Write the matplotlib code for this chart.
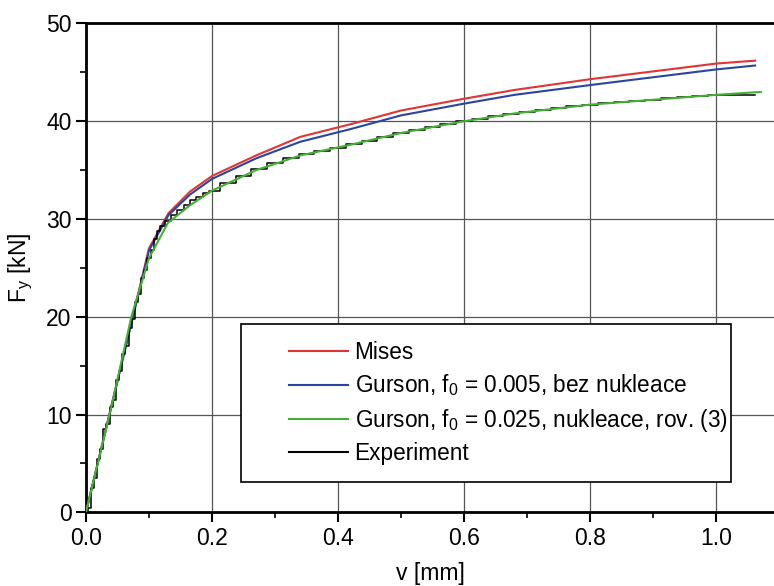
import matplotlib
matplotlib.use('Agg')
import matplotlib.pyplot as plt
from matplotlib.patches import Rectangle
from matplotlib.ticker import MultipleLocator

plt.rcParams['font.family'] = ['Liberation Sans', 'DejaVu Sans']

# ---- data ----
x_mises = [0, 0.1, 0.131, 0.165, 0.2, 0.27, 0.34, 0.42, 0.5, 0.6, 0.68, 0.8, 0.9, 1.0, 1.062]
f_mises = [0, 27.0, 30.6, 32.8, 34.4, 36.5, 38.4, 39.7, 41.1, 42.3, 43.2, 44.3, 45.1, 45.9, 46.2]

x_gurson1 = [0, 0.1, 0.131, 0.165, 0.2, 0.27, 0.34, 0.42, 0.5, 0.6, 0.68, 0.8, 0.9, 1.0, 1.062]
f_gurson1 = [0, 26.8, 30.4, 32.5, 34.1, 36.2, 37.9, 39.2, 40.6, 41.8, 42.7, 43.7, 44.5, 45.3, 45.7]

x_gurson2 = [0, 0.04, 0.072, 0.1, 0.13, 0.165, 0.2, 0.27, 0.34, 0.42, 0.5, 0.6, 0.68, 0.8, 0.9, 1.0, 1.071]
f_gurson2 = [0, 10.7, 20.0, 26.0, 29.6, 31.4, 32.9, 35.0, 36.5, 37.6, 38.8, 40.0, 40.8, 41.7, 42.2, 42.7, 43.0]

x_exp = [0, 0.005, 0.01, 0.015, 0.02, 0.025, 0.03, 0.035, 0.04, 0.045, 0.05, 0.055, 0.06,
         0.065, 0.07, 0.075, 0.08, 0.085, 0.09, 0.095, 0.1, 0.105, 0.11, 0.115, 0.12, 0.13,
         0.14, 0.15, 0.16, 0.17, 0.18, 0.19, 0.2, 0.225, 0.25, 0.275, 0.3, 0.325, 0.35, 0.375,
         0.4, 0.425, 0.45, 0.475, 0.5, 0.525, 0.55, 0.575, 0.6, 0.625, 0.65, 0.675, 0.7, 0.725,
         0.75, 0.775, 0.8, 0.825, 0.85, 0.875, 0.9, 0.925, 0.95, 0.975, 1.0, 1.025, 1.062]
f_exp = [0, 0.4, 2.5, 3.5, 5.5, 6.5, 8.5, 9.0, 10.8, 11.5, 13.5, 14.5, 16.2,
         17.0, 18.8, 19.8, 21.5, 22.3, 24.0, 24.8, 26.0, 26.8, 28.0, 28.8, 29.3, 29.8,
         30.4, 30.9, 31.4, 31.9, 32.3, 32.7, 32.9, 33.7, 34.4, 35.1, 35.7, 36.2, 36.6, 37.0,
         37.3, 37.65, 38.0, 38.4, 38.8, 39.1, 39.4, 39.7, 40.0, 40.25, 40.5, 40.75, 40.95, 41.15,
         41.35, 41.55, 41.7, 41.85, 41.95, 42.1, 42.2, 42.35, 42.45, 42.6, 42.7, 42.7, 42.7]

labels = ['Mises',
          r'Gurson, f$_\mathregular{0}$ = 0.005, bez nukleace',
          r'Gurson, f$_\mathregular{0}$ = 0.025, nukleace, rov. (3)',
          'Experiment']

fig = plt.figure(figsize=(7.74, 5.86), dpi=100)
ax = fig.add_axes([0.1111, 0.1258, 0.8889, 0.8341])

ax.plot(x_mises, f_mises, color='#e03535', lw=1.5, label=labels[0], zorder=3)
ax.plot(x_gurson1, f_gurson1, color='#2a45a0', lw=1.5, label=labels[1], zorder=3)
ax.plot(x_exp, f_exp, color='black', lw=1.1, drawstyle='steps-mid', label=labels[3], zorder=3)
ax.plot(x_gurson2, f_gurson2, color='#45b035', lw=1.5, label=labels[2], zorder=3.5)

ax.set_xlim(0, 1.092)
ax.set_ylim(0, 50)
ax.xaxis.set_major_locator(MultipleLocator(0.2))
ax.xaxis.set_minor_locator(MultipleLocator(0.1))
ax.yaxis.set_major_locator(MultipleLocator(10))
ax.yaxis.set_minor_locator(MultipleLocator(5))
ax.tick_params(which='major', direction='out', length=7, width=1.5, labelsize=16.5)
ax.tick_params(which='minor', direction='out', length=4, width=1.2)
ax.set_xticks([0, 0.2, 0.4, 0.6, 0.8, 1.0])
ax.set_xticklabels(['0.0', '0.2', '0.4', '0.6', '0.8', '1.0'])
ax.grid(True, which='major', color='#555555', lw=0.9)
ax.set_axisbelow(True)
for s in ['top', 'left', 'bottom']:
    ax.spines[s].set_linewidth(2)
ax.spines['right'].set_visible(False)

ax.set_xlabel('v [mm]', fontsize=16.5, labelpad=9)
ax.set_ylabel(r'F$_\mathregular{y}$ [kN]', fontsize=16.5, labelpad=8)

box = Rectangle((0.2253, 0.062), 0.7122, 0.323, transform=ax.transAxes,
                facecolor='white', edgecolor='black', lw=1.2, zorder=4)
ax.add_patch(box)

h, l = ax.get_legend_handles_labels()
order = [0, 1, 3, 2]
leg = ax.legend([h[i] for i in order], [l[i] for i in order], loc='center left',
                bbox_to_anchor=(0.295, 0.2236), frameon=False, fontsize=16.3,
                borderpad=0, borderaxespad=0, handlelength=2.6, handletextpad=0.3,
                labelspacing=0.36)
leg.set_zorder(5)
for line in leg.get_lines():
    line.set_linewidth(1.5)

fig.savefig('out.png', dpi=100)
